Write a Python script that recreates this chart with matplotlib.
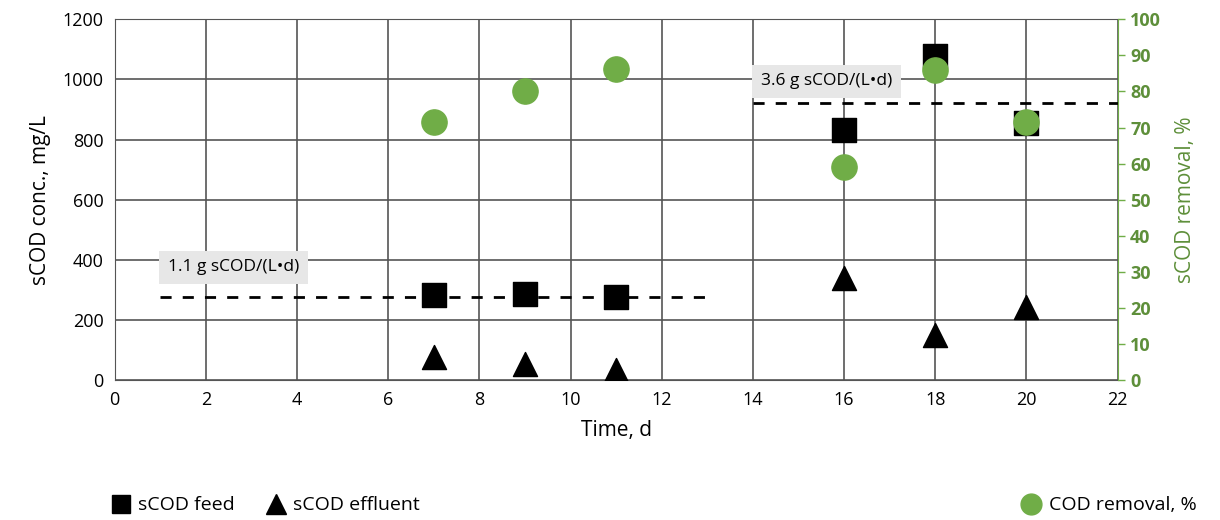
import numpy as np
import matplotlib.pyplot as plt
from matplotlib.lines import Line2D

# data
days = [7, 9, 11, 16, 18, 20]
scod_feed = [282, 287, 275, 831, 1078, 855]
scod_effluent = [78, 52, 32, 338, 150, 243]
cod_removal = [71.5, 80.2, 86.3, 59.1, 85.8, 71.6]

olr_low_x = [1, 13]
olr_low_y = [275, 275]
olr_high_x = [14, 22]
olr_high_y = [920, 920]

green = '#70AD47'
green_dark = '#5E8F3A'
plt.rcParams['font.family'] = ['Open Sans', 'DejaVu Sans']

fig = plt.figure(figsize=(12.2, 5.2), dpi=100)
ax = fig.add_axes([0.094, 0.269, 0.822, 0.694])
ax2 = ax.twinx()

ax.set_xlim(0, 22); ax.set_ylim(0, 1200)
ax.set_xticks(np.arange(0, 23, 2)); ax.set_yticks(np.arange(0, 1201, 200))
ax.grid(color='#555555', lw=1.2)
ax.set_axisbelow(True)
for s in ['left', 'top', 'bottom']:
    ax.spines[s].set_color('#555555')
ax.spines['right'].set_visible(False)
ax.tick_params(length=0, labelsize=13, pad=8)
ax.set_xlabel('Time, d', fontsize=15, labelpad=8)
ax.set_ylabel('sCOD conc., mg/L', fontsize=15, labelpad=8)

ax.plot(olr_low_x, olr_low_y, 'k--', lw=2, dashes=(4, 4), zorder=2)
ax.plot(olr_high_x, olr_high_y, 'k--', lw=2, dashes=(4, 4), zorder=2)
ax.scatter(days, scod_feed, marker='s', s=290, color='black', zorder=3)
ax.scatter(days, scod_effluent, marker='^', s=300, color='black', zorder=3)

box = dict(boxstyle='square,pad=0.5', fc='#E7E7E7', ec='none')
ax.text(1.17, 375, '1.1 g sCOD/(L\u2022d)', fontsize=12.5, va='center', ha='left',
        bbox=box, zorder=4)
ax.text(14.17, 994, '3.6 g sCOD/(L\u2022d)', fontsize=12.5, va='center', ha='left',
        bbox=box, zorder=4)

ax2.set_ylim(0, 100)
ax2.set_yticks(np.arange(0, 101, 10))
ax2.scatter(days, cod_removal, marker='o', s=330, color=green, zorder=5)
ax2.spines['right'].set_color(green)
for s in ['left', 'top', 'bottom']:
    ax2.spines[s].set_visible(False)
ax2.tick_params(axis='y', colors=green, length=5, width=1, labelsize=13, pad=4)
for lbl in ax2.get_yticklabels():
    lbl.set_color(green_dark); lbl.set_fontweight('bold')
ax2.set_ylabel('sCOD removal, %', fontsize=15, color=green_dark, labelpad=10)

h1 = [Line2D([], [], marker='s', color='black', ls='none', markersize=13),
      Line2D([], [], marker='^', color='black', ls='none', markersize=14)]
fig.legend(h1, ['sCOD feed', 'sCOD effluent'], loc='center left',
           bbox_to_anchor=(0.075, 0.028), ncol=2, frameon=False, fontsize=14,
           handletextpad=0.3, columnspacing=1.5, handlelength=1.2)
h2 = [Line2D([], [], marker='o', color=green, ls='none', markersize=15)]
fig.legend(h2, ['COD removal, %'], loc='center right',
           bbox_to_anchor=(0.995, 0.028), frameon=False, fontsize=14,
           handletextpad=0.3, handlelength=1.2)

fig.savefig('out.png', dpi=100)
